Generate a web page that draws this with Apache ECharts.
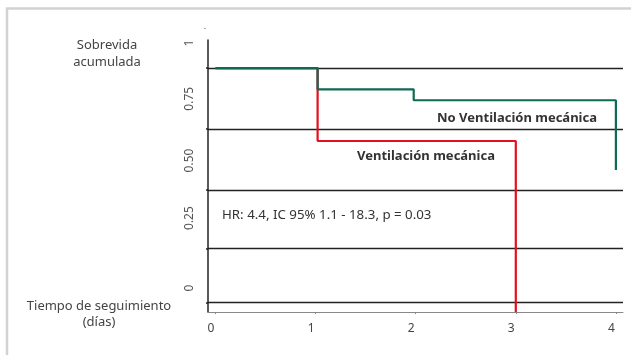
<!DOCTYPE html>
<html>
<head>
<meta charset="utf-8">
<script src="https://cdn.jsdelivr.net/npm/echarts@6/dist/echarts.min.js"></script>
<style>
html,body{margin:0;padding:0;background:#fff;}
#c{width:631px;height:355px;}
</style>
</head>
<body>
<div id="c"></div>
<script>
// ---- data ----
var xTicks = [0, 1, 2, 3, 4];
var yTickLabels = ['1', '0.75', '0.50', '0.25', '0'];
var yTickLabelPos = [1.102, 0.874, 0.621, 0.385, 0.098];
var gridValues = [1, 0.75, 0.5, 0.26, 0.036];
var noVentX = [0, 1.02, 1.98, 4, 4];
var noVentY = [1, 0.913, 0.868, 0.868, 0.582];
var ventX = [0, 1.02, 3.0];
var ventY = [1, 0.701, 0];
var yTitle = ['Sobrevida', 'acumulada'];
var xTitle = ['Tiempo de seguimiento', '(días)'];
var noVentLabel = 'No Ventilación mecánica';
var ventLabel = 'Ventilación mecánica';
var hrText = 'HR: 4.4, IC 95% 1.1 - 18.3, p = 0.03';

function zip(a, b) { return a.map(function (v, i) { return [v, b[i]]; }); }

var FONT = '"Noto Sans", sans-serif';
var chart = echarts.init(document.getElementById('c'), null, {renderer: 'canvas'});
chart.setOption({
  animation: false,
  backgroundColor: '#fff',
  grid: {left: 208, right: 8, top: 40, bottom: 43, containLabel: false},
  xAxis: {
    type: 'value', min: -0.075, max: 4.071,
    splitLine: {show: false},
    axisLine: {show: true, onZero: false, lineStyle: {color: '#888', width: 1}},
    axisTick: {show: true, customValues: xTicks, length: 2, lineStyle: {color: '#888'}},
    axisLabel: {customValues: xTicks, color: '#444', fontSize: 12, fontFamily: FONT, margin: 11, padding: [0, 9, 0, 0]}
  },
  yAxis: {
    type: 'value', min: 0, max: 1.115,
    name: '-', nameLocation: 'end', nameGap: 8,
    nameTextStyle: {fontSize: 7, color: '#333', padding: [0, 6, 0, 0]},
    splitLine: {show: false},
    axisLine: {show: true, onZero: false, lineStyle: {color: '#222', width: 1.5}},
    axisTick: {show: true, customValues: gridValues, length: 2, lineStyle: {color: '#222', width: 1.5}},
    axisLabel: {
      customValues: yTickLabelPos, rotate: 90, color: '#555', fontSize: 12, fontFamily: FONT, margin: 12,
      formatter: function (v) {
        for (var i = 0; i < yTickLabelPos.length; i++) if (Math.abs(yTickLabelPos[i] - v) < 1e-6) return yTickLabels[i];
        return '';
      }
    }
  },
  series: [
    {
      type: 'line', data: [], z: 1, silent: true,
      markLine: {
        silent: true, z: 1, symbol: ['none', 'none'], label: {show: false},
        lineStyle: {color: '#222', width: 1.3, type: 'solid'},
        data: gridValues.map(function (v) { return {yAxis: v}; })
      }
    },
    {
      name: ventLabel, type: 'line', step: 'end', z: 6, showSymbol: false,
      data: zip(ventX, ventY),
      lineStyle: {color: '#e3101f', width: 2.2}, itemStyle: {color: '#e3101f'}
    },
    {
      name: noVentLabel, type: 'line', step: 'end', z: 7, showSymbol: false,
      data: zip(noVentX, noVentY),
      lineStyle: {color: '#0f6a55', width: 2.2}, itemStyle: {color: '#0f6a55'}
    }
  ],
  graphic: [
    {type: 'rect', shape: {x: 7, y: 8.5, width: 700, height: 400}, style: {fill: 'none', stroke: '#d2d2d2', lineWidth: 2.5}, z: 0},
    {type: 'text', x: 107, y: 45, style: {text: yTitle[0], fill: '#444', fontSize: 13, fontFamily: FONT, align: 'center', verticalAlign: 'middle'}},
    {type: 'text', x: 107, y: 62, style: {text: yTitle[1], fill: '#444', fontSize: 13, fontFamily: FONT, align: 'center', verticalAlign: 'middle'}},
    {type: 'text', x: 99, y: 306, style: {text: xTitle[0], fill: '#444', fontSize: 13, fontFamily: FONT, align: 'center', verticalAlign: 'middle'}},
    {type: 'text', x: 99, y: 322, style: {text: xTitle[1], fill: '#444', fontSize: 13, fontFamily: FONT, align: 'center', verticalAlign: 'middle'}},
    {type: 'text', x: 517, y: 118, style: {text: noVentLabel, fill: '#333', fontSize: 13, fontWeight: 'bold', fontFamily: FONT, align: 'center', verticalAlign: 'middle'}, z: 10},
    {type: 'text', x: 426, y: 156, style: {text: ventLabel, fill: '#333', fontSize: 13, fontWeight: 'bold', fontFamily: FONT, align: 'center', verticalAlign: 'middle'}, z: 10},
    {type: 'text', x: 222, y: 215, style: {text: hrText, fill: '#333', fontSize: 13.3, fontFamily: FONT, align: 'left', verticalAlign: 'middle'}, z: 10}
  ]
});
</script>
</body>
</html>
